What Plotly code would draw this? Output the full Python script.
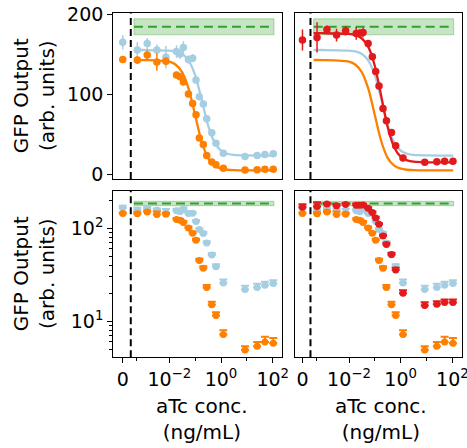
import plotly.graph_objects as go

# ---------------- data ----------------
CONC = [0, 0.00058, 0.0014, 0.0033, 0.0074, 0.019, 0.026, 0.035, 0.055, 0.08, 0.108,
        0.145, 0.207, 0.28, 0.44, 0.64, 1.23, 8.5, 25, 50, 105]

BLUE = [164.6, 155, 163, 155, 146, 153, 150, 158, 143, 144.6, 117.5,
        96.7, 87.5, 69, 51.5, 38.5, 25.8, 21.9, 23, 24.4, 25.4]
BLUE_ERR = [9, 10, 7, 7, 14, 8, 6, 8, 5, 5, 4, 3, 3, 3, 2.5, 2.5, 2.2, 2.2, 2.2, 2.2, 2.2]

ORANGE = [143, 142.5, 148.7, 140, 141, 123.7, 121.6, 115, 100, 88, 74,
          45, 37, 23, 15, 11.5, 7.2, 4.9, 5.4, 6.0, 5.8]
ORANGE_ERR = [4, 5, 6, 11, 5, 4, 4, 4, 4, 3, 3, 2, 2, 1.5, 1.2, 1, 0.8, 0.5, 0.6, 0.8, 0.8]

RED = [167.5, 170.8, 180.8, 173.7, 179, 175.8, 176, 177, 163.3, 146.6, 128,
       110, 82, 66.7, 52, 35.4, 20, 14.8, 15.2, 15.9, 15.9]
RED_ERR = [13, 19, 5, 8, 6, 8, 5, 6, 4, 4, 4, 3, 3, 3, 2.5, 2, 1.5, 1.2, 1.2, 1.2, 1.2]

FIT_CONC = [0.00043, 0.001, 0.01, 0.0178, 0.0316, 0.0562, 0.1, 0.178, 0.316,
            0.562, 1.0, 1.78, 3.16, 10, 107]
BLUE_FIT = [155, 155, 154.3, 153.2, 150, 141.8, 123.5, 93.1, 60.8, 39.5, 29.3, 25.3, 23.8, 23.2, 23]
ORANGE_FIT = [142.5, 142.4, 140.4, 136.6, 127.1, 106.3, 73.5, 40.6, 19.9, 10.4, 6.7, 5.3, 4.8, 4.5, 4.5]
RED_FIT = [176, 176, 175.1, 173.6, 169.4, 158.6, 135, 96.9, 58.1, 33.2, 21.7, 17.1, 15.4, 14.6, 14.5]

REF_MEAN = 184
REF_SD = 10
REF_X = [0.00043, 112]

X_TICKTEXT = ["0", "10<sup>−2</sup>", "10<sup>0</sup>", "10<sup>2</sup>"]

# ---------------- display helpers ----------------
ZERO_POS = 10 ** -3.80      # where "0" sits on the symlog-like axis
VLINE_POS = 10 ** -3.49     # dashed divider
MINOR_X = [10 ** -3.26, 0.1, 10]

C_BLUE = "#a6cee3"
C_ORANGE = "#ff7f00"
C_RED = "#e31a1c"
C_GREEN = "#33a02c"
FONT = "DejaVu Sans"

def xpos(c):
    return [ZERO_POS if v == 0 else v for v in c]

XP = xpos(CONC)
TOP_YR = [-6.25, 200.9]
BOT_YR = [0.613, 2.398]

fig = go.Figure()

def add(tr, k):
    tr.xaxis = "x" if k == 1 else f"x{k}"
    tr.yaxis = "y" if k == 1 else f"y{k}"
    fig.add_trace(tr)

def ref_band(k, log):
    lo, hi = REF_MEAN - REF_SD, REF_MEAN + REF_SD
    add(go.Scatter(x=[REF_X[0], REF_X[1], REF_X[1], REF_X[0], REF_X[0]],
                   y=[lo, lo, hi, hi, lo], fill="toself", mode="lines",
                   fillcolor="rgba(51,160,44,0.28)",
                   line=dict(color="rgba(51,160,44,0.35)", width=1),
                   hoverinfo="skip"), k)
    add(go.Scatter(x=REF_X, y=[REF_MEAN, REF_MEAN], mode="lines",
                   line=dict(color=C_GREEN, width=2, dash="9px,5px"),
                   hoverinfo="skip"), k)

def vline(k, log):
    yr = [10 ** BOT_YR[0], 10 ** BOT_YR[1]] if log else TOP_YR
    add(go.Scatter(x=[VLINE_POS, VLINE_POS], y=yr, mode="lines",
                   line=dict(color="black", width=2, dash="7px,4px"),
                   hoverinfo="skip"), k)

def data(k, y, err, color, log):
    if log:
        ey = dict(type="data", symmetric=False, array=err, arrayminus=[0] * len(err),
                  color=color, thickness=2, width=4)
        size = 7
    else:
        ey = dict(type="data", array=err, color=color, thickness=1.5, width=0)
        size = 7.5
    add(go.Scatter(x=XP, y=y, mode="markers",
                   marker=dict(color=color, size=size, line=dict(width=0)),
                   error_y=ey), k)

def fit(k, y, color):
    add(go.Scatter(x=FIT_CONC, y=y, mode="lines",
                   line=dict(color=color, width=2.3, shape="spline", smoothing=0.8),
                   hoverinfo="skip"), k)

# panel 1: top-left
ref_band(1, False); vline(1, False)
fit(1, BLUE_FIT, C_BLUE); fit(1, ORANGE_FIT, C_ORANGE)
data(1, BLUE, BLUE_ERR, C_BLUE, False)
data(1, ORANGE, ORANGE_ERR, C_ORANGE, False)

# panel 2: top-right
ref_band(2, False); vline(2, False)
fit(2, BLUE_FIT, C_BLUE); fit(2, ORANGE_FIT, C_ORANGE)
fit(2, RED_FIT, C_RED)
data(2, RED, RED_ERR, C_RED, False)

# panel 3: bottom-left
ref_band(3, True); vline(3, True)
data(3, BLUE, BLUE_ERR, C_BLUE, True)
data(3, ORANGE, ORANGE_ERR, C_ORANGE, True)

# panel 4: bottom-right
ref_band(4, True); vline(4, True)
data(4, BLUE, BLUE_ERR, C_BLUE, True)
data(4, ORANGE, ORANGE_ERR, C_ORANGE, True)
data(4, RED, RED_ERR, C_RED, True)

W, H = 467, 448
XD_L = [113.3 / W, 282.3 / W]
XD_R = [295.0 / W, 462.3 / W]
XR_L = [-4.166, 2.371]
XR_R = [-4.089, 2.383]
YD_T = [1 - 179.0 / H, 1 - 13.3 / H]
YD_B = [1 - 357.3 / H, 1 - 191.0 / H]

tickfont = dict(family=FONT, size=19, color="black")
base = dict(showline=True, mirror=True, linecolor="black", linewidth=1.3,
            showgrid=False, zeroline=False, automargin=False, tickfont=tickfont,
            tickcolor="black", tickwidth=1.3, ticklen=5, ticklabeloverflow="allow")

def xaxis(domain, rng, anchor, labels):
    d = dict(base, type="log", domain=domain, range=rng, anchor=anchor)
    if labels:
        d.update(tickmode="array", tickvals=[ZERO_POS, 1e-2, 1, 100], ticktext=X_TICKTEXT,
                 ticks="outside", showticklabels=True,
                 minor=dict(tickmode="array", tickvals=MINOR_X, ticks="outside",
                            ticklen=3, tickwidth=1, tickcolor="black"))
    else:
        d.update(ticks="", showticklabels=False)
    return d

def yaxis_top(domain, anchor, labels):
    d = dict(base, type="linear", domain=domain, range=TOP_YR, anchor=anchor)
    if labels:
        d.update(tickmode="array", tickvals=[0, 100, 200], ticks="outside")
    else:
        d.update(ticks="", showticklabels=False)
    return d

def yaxis_bot(domain, anchor, labels):
    d = dict(base, type="log", domain=domain, range=BOT_YR, anchor=anchor)
    if labels:
        d.update(tickmode="array", tickvals=[10, 100],
                 ticktext=["10<sup>1</sup>", "10<sup>2</sup>"], ticks="outside",
                 minor=dict(tickmode="array",
                            tickvals=[5, 6, 7, 8, 9, 20, 30, 40, 50, 60, 70, 80, 90, 200],
                            ticks="outside", ticklen=3, tickwidth=1, tickcolor="black"))
    else:
        d.update(ticks="", showticklabels=False)
    return d

fig.update_layout(
    width=W, height=H, margin=dict(l=0, r=0, t=0, b=0),
    paper_bgcolor="white", plot_bgcolor="white", showlegend=False,
    template="none",
    font=dict(family=FONT, color="black"),
    xaxis=xaxis(XD_L, XR_L, "y", False),
    yaxis=yaxis_top(YD_T, "x", True),
    xaxis2=xaxis(XD_R, XR_R, "y2", False),
    yaxis2=yaxis_top(YD_T, "x2", False),
    xaxis3=xaxis(XD_L, XR_L, "y3", True),
    yaxis3=yaxis_bot(YD_B, "x3", True),
    xaxis4=xaxis(XD_R, XR_R, "y4", True),
    yaxis4=yaxis_bot(YD_B, "x4", False),
)

title_font = dict(family=FONT, size=20, color="black")
for yc in [(YD_T[0] + YD_T[1]) / 2, (YD_B[0] + YD_B[1]) / 2]:
    fig.add_annotation(text="GFP Output<br>(arb. units)", x=34 / W, y=yc,
                       xref="paper", yref="paper", textangle=-90, showarrow=False,
                       xanchor="center", yanchor="middle", font=title_font)
for xc in [202 / W, 381 / W]:
    fig.add_annotation(text="aTc conc.<br>(ng/mL)", x=xc, y=1 - 419 / H,
                       xref="paper", yref="paper", showarrow=False,
                       xanchor="center", yanchor="middle", font=title_font)

fig.write_html("out.html", config={"displayModeBar": False},
               post_script="document.body.style.margin='0px';document.body.style.overflow='hidden';")
